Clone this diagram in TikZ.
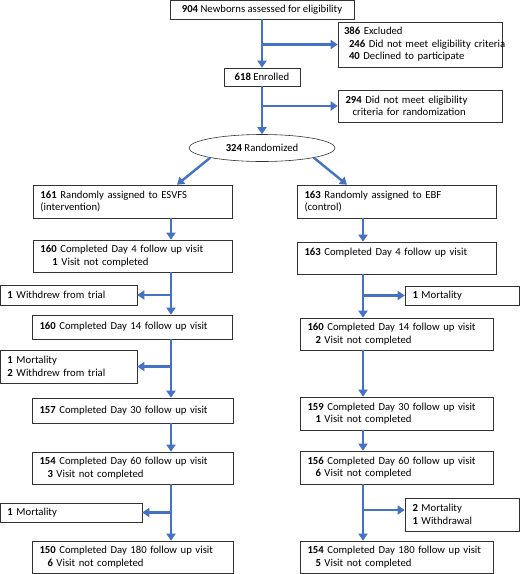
\documentclass[tikz,border=0pt]{standalone}
\usepackage{fontspec}
\setmainfont{Carlito}
\usetikzlibrary{arrows.meta,shapes.geometric}
\definecolor{flowblue}{HTML}{4472C4}
\begin{document}
\begin{tikzpicture}
[x=1pt,y=-1pt,
every node/.style={draw=black!80,line width=0.6pt,inner xsep=7.5pt,inner ysep=0pt,align=left,font=\fontsize{10.7}{12.5}\selectfont},
arr/.style={draw=flowblue,line width=2.4pt,-{Triangle[length=7pt,width=9pt]}}]
\useasboundingbox (0,0) rectangle (520,574);
% top part
\node[align=center,minimum width=184,minimum height=19] (top) at (262,9.5) {\textbf{904} Newborns assessed for eligibility};
\node[inner xsep=6pt,text width=152,minimum height=45] (ex1) at (420,44.5) {\textbf{386} Excluded\\\hspace*{5pt}\mbox{\textbf{246} Did not meet eligibility criteria}\\\hspace*{5pt}\textbf{40} Declined to participate};
\node[align=center,minimum width=76,minimum height=18] (enr) at (262,77) {\textbf{618} Enrolled};
\node[text width=149,minimum height=32] (ex2) at (420,106) {\textbf{294} Did not meet eligibility\\\hspace*{7pt}criteria for randomization};
\node[ellipse,align=center,inner sep=0pt,minimum width=146,minimum height=27] (rand) at (262,148) {\textbf{324} Randomized};
% left arm
\node[text width=184,minimum height=33] (a0) at (132.5,201.5) {\textbf{161} Randomly assigned to ESVFS\\(intervention)};
\node[text width=184,minimum height=32] (a1) at (132.5,256) {\textbf{160} Completed Day 4 follow up visit\\\hspace*{12pt}\textbf{1} Visit not completed};
\node[text width=122,minimum height=20] (ax1) at (68.5,295) {\textbf{1} Withdrew from trial};
\node[text width=185,minimum height=24] (a2) at (132,327) {\textbf{160} Completed Day 14 follow up visit};
\node[text width=122,minimum height=33] (ax2) at (68.5,366.5) {\textbf{1} Mortality\\\textbf{2} Withdrew from trial};
\node[text width=186,minimum height=25] (a3) at (132.5,410.5) {\textbf{157} Completed Day 30 follow up visit};
\node[text width=186,minimum height=32] (a4) at (132.5,468) {\textbf{154} Completed Day 60 follow up visit\\\hspace*{8pt}\textbf{3} Visit not completed};
\node[text width=127,minimum height=19] (ax3) at (71,512.5) {\textbf{1} Mortality};
\node[text width=186,minimum height=32] (a5) at (132.5,557) {\textbf{150} Completed Day 180 follow up visit\\\hspace*{8pt}\textbf{6} Visit not completed};
% right arm
\node[text width=184,minimum height=33] (b0) at (396.5,201.5) {\textbf{163} Randomly assigned to EBF\\(control)};
\node[text width=184,minimum height=32] (b1) at (396.5,258) {\textbf{163} Completed Day 4 follow up visit\\\mbox{}};
\node[text width=99,minimum height=19] (bx1) at (462,295.5) {\textbf{1} Mortality};
\node[text width=178,minimum height=32] (b2) at (396.5,334) {\textbf{160} Completed Day 14 follow up visit\\\hspace*{8pt}\textbf{2} Visit not completed};
\node[text width=178,minimum height=33] (b3) at (396.5,413.5) {\textbf{159} Completed Day 30 follow up visit\\\hspace*{8pt}\textbf{1} Visit not completed};
\node[text width=178,minimum height=33] (b4) at (396.5,467.5) {\textbf{156} Completed Day 60 follow up visit\\\hspace*{8pt}\textbf{6} Visit not completed};
\node[text width=99,minimum height=33] (bx3) at (462,514.5) {\textbf{2} Mortality\\\textbf{1} Withdrawal};
\node[text width=178,minimum height=32] (b5) at (396.5,557) {\textbf{154} Completed Day 180 follow up visit\\\hspace*{8pt}\textbf{5} Visit not completed};
% column lines
\coordinate (lx) at (171,0);
\coordinate (rx) at (363,0);
\coordinate (la) at (177,0);
\coordinate (ra) at (347,0);
\draw[arr] (top.south) -- (enr.north);
\draw[arr] (enr.south) -- (rand.north);
\foreach \from/\to in {top/ex1,enr/ex2}
\draw[arr] (\to.west -| \from.south) -- (\to.west);
\draw[arr] (rand.south west) -- (a0.north -| la);
\draw[arr] (rand.south east) -- (b0.north -| ra);
\foreach \from/\to in {a0/a1,a1/a2,a2/a3,a3/a4,a4/a5}
\draw[arr] (\from.south -| lx) -- (\to.north -| lx);
\foreach \from/\to in {b0/b1,b1/b2,b2/b3,b3/b4,b4/b5}
\draw[arr] (\from.south -| rx) -- (\to.north -| rx);
\foreach \side in {ax1,ax2,ax3}
\draw[arr] (\side.east -| lx) -- (\side.east);
\draw[arr] (bx1.west -| rx) -- (bx1.west);
\draw[arr] ([yshift=4.5pt]bx3.west -| rx) -- ([yshift=4.5pt]bx3.west);
\end{tikzpicture}
\end{document}
